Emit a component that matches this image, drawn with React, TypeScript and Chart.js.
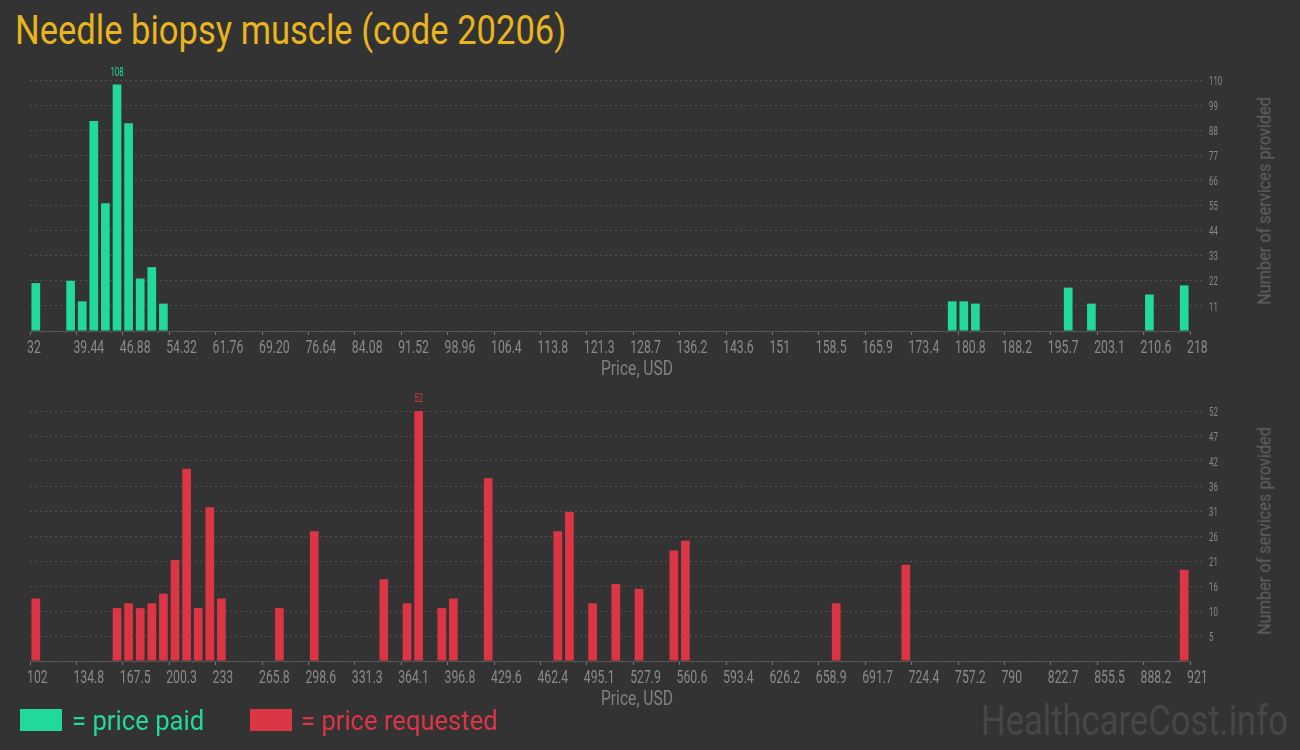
import React, { useEffect, useLayoutEffect, useRef, useState } from 'react';
import { Chart, registerables } from 'chart.js';

Chart.register(...registerables);

// ---------------- data ----------------
const TITLE = 'Needle biopsy muscle (code 20206)';

// price paid (top chart): bin centre price (USD) and number of services
const paidPrices = [32.93, 38.51, 40.37, 42.23, 44.09, 45.95, 47.81, 49.67, 51.53, 53.39, 179.87, 181.73, 183.59, 198.47, 202.19, 211.49, 217.07];
const paidCounts = [21, 22, 13, 92, 56, 108, 91, 23, 28, 12, 13, 13, 12, 19, 12, 16, 20];
const paidXMin = 32;
const paidXMax = 218;
const paidXTickLabels = ['32', '39.44', '46.88', '54.32', '61.76', '69.20', '76.64', '84.08', '91.52', '98.96', '106.4', '113.8', '121.3', '128.7', '136.2', '143.6', '151', '158.5', '165.9', '173.4', '180.8', '188.2', '195.7', '203.1', '210.6', '218'];
const paidYMax = 110;
const paidYTickLabels = ['11', '22', '33', '44', '55', '66', '77', '88', '99', '110'];

// price requested (bottom chart)
const requestedPrices = [106.1, 163.43, 171.62, 179.81, 188.0, 196.19, 204.38, 212.57, 220.76, 228.95, 237.14, 278.09, 302.66, 351.8, 368.18, 376.37, 392.75, 400.94, 425.51, 474.65, 482.84, 499.22, 515.6, 531.98, 556.55, 564.74, 671.21, 720.35, 916.91];
const requestedCounts = [13, 11, 12, 11, 12, 14, 21, 40, 11, 32, 13, 11, 27, 17, 12, 52, 11, 13, 38, 27, 31, 12, 16, 15, 23, 25, 12, 20, 19];
const requestedXMin = 102;
const requestedXMax = 921;
const requestedXTickLabels = ['102', '134.8', '167.5', '200.3', '233', '265.8', '298.6', '331.3', '364.1', '396.8', '429.6', '462.4', '495.1', '527.9', '560.6', '593.4', '626.2', '658.9', '691.7', '724.4', '757.2', '790', '822.7', '855.5', '888.2', '921'];
const requestedYMax = 52;
const requestedYTickLabels = ['5', '10', '16', '21', '26', '31', '36', '42', '47', '52'];

const BINS = 100;

// ---------------- styles ----------------
const BG = '#333333';
const GREEN = '#21d99b';
const RED = '#dc3545';
const GOLD = '#e8b51e';
const TICK_COLOR = '#8a8a8a';

// draws a condensed (horizontally squeezed) label
function squeezed(ctx: any, text: string, x: number, y: number, size: number, sx: number, align: string) {
  ctx.save();
  ctx.font = `${size}px Roboto, sans-serif`;
  ctx.textAlign = align;
  ctx.textBaseline = 'alphabetic';
  ctx.translate(x, y);
  ctx.scale(sx, 1);
  ctx.fillText(text, 0, 0);
  ctx.restore();
}

const minorTicksPlugin = {
  id: 'minorTicks',
  afterDraw(chart: any, _args: any, opts: any) {
    const xs = chart.scales.x;
    const ctx = chart.ctx;
    const bottom = chart.chartArea.bottom;
    const step = (xs.max - xs.min) / BINS;
    ctx.save();
    ctx.strokeStyle = opts.color || '#555';
    ctx.lineWidth = 1;
    for (let j = 1; j < BINS; j++) {
      if (j % 4 === 0) continue;
      const px = Math.round(xs.getPixelForValue(xs.min + j * step)) + 0.5;
      ctx.beginPath();
      ctx.moveTo(px, bottom);
      ctx.lineTo(px, bottom + (opts.length || 2));
      ctx.stroke();
    }
    ctx.restore();
  },
};

const axisLabelsPlugin = {
  id: 'axisLabels',
  afterDraw(chart: any, _args: any, opts: any) {
    const xs = chart.scales.x;
    const ys = chart.scales.y;
    const ctx = chart.ctx;
    const area = chart.chartArea;
    ctx.save();
    ctx.fillStyle = opts.color;
    xs.ticks.forEach((_t: any, i: number) => {
      const px = xs.getPixelForTick(i);
      squeezed(ctx, opts.xLabels[i], px - 3, area.bottom + 21.5, 18, 0.68, 'left');
    });
    ys.ticks.forEach((_t: any, i: number) => {
      if (i === 0) return;
      const py = ys.getPixelForTick(i);
      squeezed(ctx, opts.yLabels[i - 1], area.right + 19, py + 4.6, 13, 0.6, 'left');
    });
    ctx.restore();
  },
};

const peakLabelPlugin = {
  id: 'peakLabel',
  afterDatasetsDraw(chart: any, _args: any, opts: any) {
    const ds = chart.data.datasets[0];
    const vals = ds.data.map((d: any) => d.y);
    let idx = 0;
    vals.forEach((v: number, i: number) => { if (v > vals[idx]) idx = i; });
    const bar = chart.getDatasetMeta(0).data[idx];
    if (!bar) return;
    const ctx = chart.ctx;
    ctx.save();
    ctx.fillStyle = opts.color;
    squeezed(ctx, String(vals[idx]), bar.x, bar.y - 9, 13, 0.6, 'center');
    ctx.restore();
  },
};

function makeConfig(
  prices: number[], counts: number[], color: string,
  xMin: number, xMax: number, xLabels: string[],
  yMax: number, yLabels: string[],
): any {
  const xTickVals = xLabels.map((_, i) => xMin + (i * (xMax - xMin)) / (xLabels.length - 1));
  const yTickVals = [0, ...yLabels.map((_, i) => ((i + 1) * yMax) / yLabels.length)];
  const gridColor = (c: any) => (c.index === 0 ? 'rgba(0,0,0,0)' : '#505050');
  return {
    type: 'bar',
    data: {
      datasets: [{
        data: prices.map((p, i) => ({ x: p, y: counts[i] })),
        backgroundColor: color,
        borderWidth: 0,
        categoryPercentage: 1,
        barPercentage: 0.75,
      }],
    },
    options: {
      responsive: false,
      animation: false,
      events: [],
      layout: { padding: { left: 30, top: 30, right: 0, bottom: 0 } },
      plugins: {
        legend: { display: false },
        tooltip: { enabled: false },
        title: { display: false },
        minorTicks: { color: '#555', length: 2 },
        axisLabels: { color: TICK_COLOR, xLabels, yLabels },
        peakLabel: { color },
      },
      scales: {
        x: {
          type: 'linear',
          min: xMin,
          max: xMax,
          offset: false,
          afterBuildTicks: (s: any) => { s.ticks = xTickVals.map((v) => ({ value: v })); },
          afterFit: (s: any) => { s.height = 49; },
          ticks: { display: false, autoSkip: false, maxRotation: 0, minRotation: 0 },
          grid: { display: true, drawOnChartArea: false, drawTicks: true, tickLength: 4, tickColor: '#777', offset: false },
          border: { display: true, color: '#555', width: 1 },
        },
        y: {
          type: 'linear',
          position: 'right',
          min: 0,
          max: yMax,
          afterBuildTicks: (s: any) => { s.ticks = yTickVals.map((v) => ({ value: v })); },
          afterFit: (s: any) => { s.width = 110; },
          ticks: { display: false },
          grid: {
            color: gridColor,
            tickColor: gridColor,
            lineWidth: 1,
            drawTicks: true,
            tickLength: 15,
            tickBorderDash: [2, 3],
          },
          border: { display: false, dash: [2, 3] },
        },
      },
    },
    plugins: [minorTicksPlugin, axisLabelsPlugin, peakLabelPlugin],
  };
}

function BarChart(props: {
  top: number; height: number; prices: number[]; counts: number[]; color: string;
  xMin: number; xMax: number; xLabels: string[]; yMax: number; yLabels: string[];
}) {
  const ref = useRef<HTMLCanvasElement>(null);
  useEffect(() => {
    const chart = new Chart(ref.current!, makeConfig(
      props.prices, props.counts, props.color, props.xMin, props.xMax, props.xLabels, props.yMax, props.yLabels,
    ));
    return () => chart.destroy();
  }, []);
  return (
    <canvas
      ref={ref}
      width={1300}
      height={props.height}
      style={{ position: 'absolute', left: 0, top: props.top, width: 1300, height: props.height }}
    />
  );
}

// Text fitted horizontally to a target width (condensed look)
function FitText(props: {
  text: string; x: number; y: number; width: number; size: number; color: string;
  anchor?: 'left' | 'center'; rotate?: boolean; family?: string;
}) {
  const ref = useRef<HTMLSpanElement>(null);
  const [k, setK] = useState(1);
  useLayoutEffect(() => {
    const w = ref.current ? ref.current.offsetWidth : 0;
    if (w) setK(props.width / w);
  }, [props.text, props.width, props.size]);
  const base: React.CSSProperties = {
    position: 'absolute',
    whiteSpace: 'nowrap',
    fontFamily: props.family || 'Roboto, sans-serif',
    fontSize: props.size,
    lineHeight: 1,
    color: props.color,
    display: 'inline-block',
  };
  if (props.rotate || props.anchor === 'center') {
    return (
      <span
        ref={ref}
        style={{
          ...base,
          left: props.x,
          top: props.y,
          transformOrigin: '50% 50%',
          transform: `translate(-50%, -50%) ${props.rotate ? 'rotate(-90deg) ' : ''}scaleX(${k})`,
        }}
      >
        {props.text}
      </span>
    );
  }
  return (
    <span
      ref={ref}
      style={{ ...base, left: props.x, top: props.y, transformOrigin: '0 0', transform: `scaleX(${k})` }}
    >
      {props.text}
    </span>
  );
}

export default function App() {
  useEffect(() => {
    document.body.style.margin = '0';
    document.body.style.background = BG;
  }, []);
  return (
    <div style={{ position: 'absolute', left: 0, top: 0, width: 1300, height: 750, background: BG, overflow: 'hidden' }}>
      <FitText text={TITLE} x={15} y={10} width={551} size={41} color={GOLD} />

      <BarChart top={50} height={330} prices={paidPrices} counts={paidCounts} color={GREEN}
        xMin={paidXMin} xMax={paidXMax} xLabels={paidXTickLabels} yMax={paidYMax} yLabels={paidYTickLabels} />
      <FitText text="Price, USD" x={637} y={368} width={72} size={20} color="#808080" anchor="center" />
      <FitText text="Number of services provided" x={1264} y={201} width={208} size={19} color="#626262" rotate />

      <BarChart top={381} height={329} prices={requestedPrices} counts={requestedCounts} color={RED}
        xMin={requestedXMin} xMax={requestedXMax} xLabels={requestedXTickLabels} yMax={requestedYMax} yLabels={requestedYTickLabels} />
      <FitText text="Price, USD" x={637} y={698} width={72} size={20} color="#808080" anchor="center" />
      <FitText text="Number of services provided" x={1264} y={531} width={208} size={19} color="#626262" rotate />

      <div style={{ position: 'absolute', left: 20, top: 709, width: 42, height: 22, background: GREEN }} />
      <FitText text="= price paid" x={72} y={708} width={132} size={27} color={GREEN} />
      <div style={{ position: 'absolute', left: 250, top: 709, width: 42, height: 22, background: RED }} />
      <FitText text="= price requested" x={301} y={708} width={197} size={27} color={RED} />

      <FitText text="HealthcareCost.info" x={981} y={700} width={307} size={42} color="#474747" />
    </div>
  );
}
